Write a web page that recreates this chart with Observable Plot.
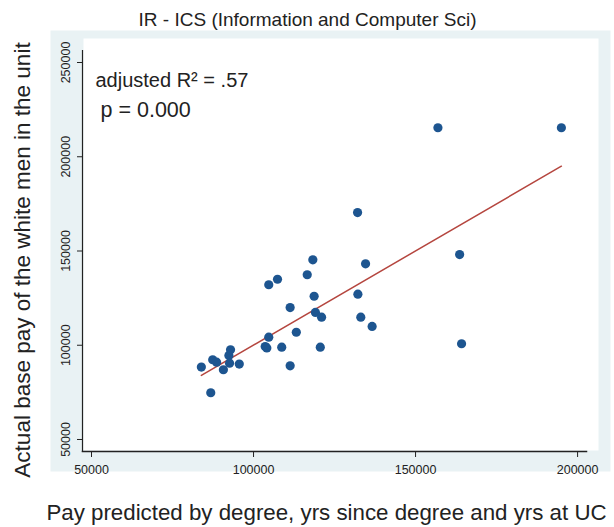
<!DOCTYPE html>
<html>
<head>
<meta charset="utf-8">
<script src="https://cdn.jsdelivr.net/npm/d3@7"></script>
<script src="https://cdn.jsdelivr.net/npm/@observablehq/plot@0.6"></script>
<style>
  html, body { margin: 0; padding: 0; background: #ffffff; }
  #chart svg { display: block; }
</style>
</head>
<body>
<div id="chart"></div>
<script>
const predicted = [118300, 134570, 116570, 107400, 104700, 132200, 118700, 111300, 119100, 121000,
                   133100, 136600, 113200, 104700, 103600, 104100, 108700, 120600, 111300, 92900,
                   92400, 87400, 88600, 92600, 95600, 90700, 83900, 86800, 132100, 156900,
                   195000, 163600, 164200];
const actual =    [145300, 143200, 137400, 135000, 132100, 127100, 126000, 120000, 117400, 114900,
                   114900, 110000, 106900, 104300, 99300, 98600, 99000, 99000, 89100, 97600,
                   94600, 92300, 91000, 90500, 90000, 87000, 88400, 74800, 170400, 215400,
                   215400, 148100, 100800];
const fitX = [83900, 195000];
const fitY = [84000, 195000];
const xTicks = [50000, 100000, 150000, 200000];
const yTicks = [50000, 100000, 150000, 200000, 250000];
const titleText = "IR - ICS (Information and Computer Sci)";
const xTitle = "Pay predicted by degree, yrs since degree and yrs at UC";
const yTitle = "Actual base pay of the white men in the unit";
const statLines = ["adjusted R\u00B2 = .57", "p = 0.000"];

const points = predicted.map((p, i) => ({x: p, y: actual[i]}));
const fit = fitX.map((x, i) => ({x, y: fitY[i]}));

const font = "Liberation Sans, Arial, Helvetica, sans-serif";
const ink = "#222222";

const chart = Plot.plot({
  width: 614,
  height: 527,
  marginLeft: 82,
  marginRight: 28,
  marginTop: 50,
  marginBottom: 76,
  style: {fontFamily: font, color: ink, background: "white"},
  x: {domain: [47220, 202750], axis: null},
  y: {domain: [43630, 256370], axis: null},
  marks: [
    Plot.frame({fill: "#e9f2f4", stroke: null, insetLeft: -32, insetTop: -20, insetRight: -24, insetBottom: -20}),
    Plot.frame({fill: "white", stroke: null, insetTop: -12, insetRight: -12, insetLeft: 1, insetBottom: 1}),
    Plot.frame({anchor: "left", stroke: ink, strokeWidth: 1.2}),
    Plot.frame({anchor: "bottom", stroke: ink, strokeWidth: 1.5}),
    Plot.axisX({ticks: xTicks, tickSize: 6, tickPadding: 8, tickFormat: d => String(d), label: null, fontSize: 12.5, color: ink, stroke: ink}),
    Plot.axisY({ticks: yTicks, tickSize: 5, tickFormat: () => "", label: null, stroke: ink}),
    Plot.text(yTicks, {y: d => d, text: d => String(d), frameAnchor: "left", dx: -17, rotate: -90, fontSize: 12.5, fill: ink, textAnchor: "middle", lineAnchor: "middle"}),
    Plot.line(fit, {x: "x", y: "y", stroke: "#b5463f", strokeWidth: 1.5}),
    Plot.dot(points, {x: "x", y: "y", r: 4.6, fill: "#1d5590", stroke: null}),
    Plot.text([statLines[0]], {frameAnchor: "top-left", dx: 13, dy: 30, textAnchor: "start", lineAnchor: "middle", fontSize: 20, fill: ink}),
    Plot.text([statLines[1]], {frameAnchor: "top-left", dx: 18, dy: 60, textAnchor: "start", lineAnchor: "middle", fontSize: 21.5, fill: ink}),
    Plot.text([titleText], {frameAnchor: "top", dx: -27, dy: -31, lineAnchor: "middle", fontSize: 19, fill: ink}),
    Plot.text([xTitle], {frameAnchor: "bottom", dx: -8, dy: 61, lineAnchor: "middle", fontSize: 22.3, fill: ink}),
    Plot.text([yTitle], {frameAnchor: "left", dx: -60, dy: 9, rotate: -90, textAnchor: "middle", lineAnchor: "middle", fontSize: 22.5, fill: ink})
  ]
});
document.getElementById("chart").append(chart);
</script>
</body>
</html>
